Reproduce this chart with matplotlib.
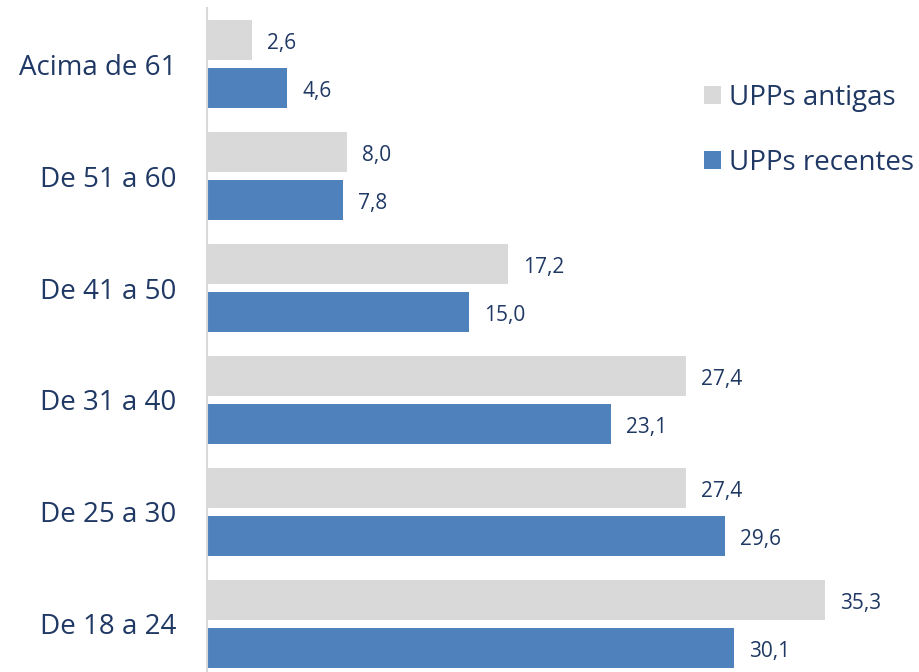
import matplotlib
matplotlib.use("Agg")
import matplotlib.pyplot as plt
import numpy as np

plt.rcParams['font.family'] = ['Open Sans', 'DejaVu Sans']

categories = ["De 18 a 24", "De 25 a 30", "De 31 a 40", "De 41 a 50", "De 51 a 60", "Acima de 61"]
antigas = [35.3, 27.4, 27.4, 17.2, 8.0, 2.6]
recentes = [30.1, 29.6, 23.1, 15.0, 7.8, 4.6]
series_names = ["UPPs antigas", "UPPs recentes"]

GRAY = "#d9d9d9"
BLUE = "#4f81bd"
NAVY = "#1f3864"

W, H = 920, 672
fig = plt.figure(figsize=(W / 100, H / 100), dpi=100)
ax = fig.add_axes([207 / W, 0, 700 / W, 664 / H])

y = np.arange(len(categories))
off = 24 / 112
h = 40 / 112
b1 = ax.barh(y + off, antigas, height=h, color=GRAY, label=series_names[0])
b2 = ax.barh(y - off, recentes, height=h, color=BLUE, label=series_names[1])

for bars, vals in ((b1, antigas), (b2, recentes)):
    for rect, v in zip(bars, vals):
        ax.annotate(f"{v:.1f}".replace(".", ","),
                    xy=(rect.get_width(), rect.get_y() + rect.get_height() / 2),
                    xytext=(15, -3), textcoords="offset pixels",
                    ha="left", va="center", fontsize=15, color=NAVY)

ax.set_xlim(0, 40)
ax.set_ylim(-48 / 112, 5.5)
ax.set_yticks(y)
ax.set_yticklabels(categories, fontsize=20, color=NAVY)
ax.tick_params(axis="y", length=0, pad=22)
ax.set_xticks([])
for s in ("top", "right", "bottom"):
    ax.spines[s].set_visible(False)
ax.spines["left"].set_color(GRAY)
ax.spines["left"].set_linewidth(1.5)

leg = fig.legend(handles=[b1, b2], labels=series_names,
                 loc="upper left", bbox_to_anchor=(690 / W, 1 - 70 / H),
                 frameon=False, fontsize=20, labelcolor=NAVY,
                 handlelength=0.6, handleheight=0.6, handletextpad=0.3,
                 labelspacing=1.33, borderpad=0)

fig.savefig("out.png", dpi=100)
